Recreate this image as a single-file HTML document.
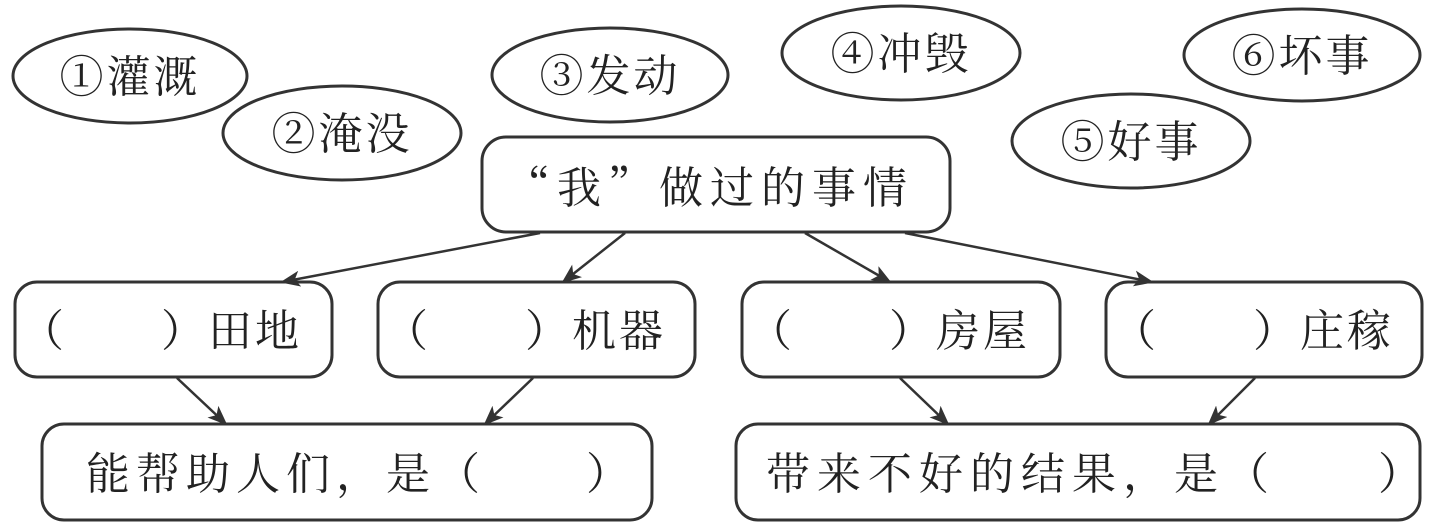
<!DOCTYPE html>
<html><head><meta charset="utf-8"><style>
html,body{margin:0;padding:0;background:#fff;}
svg{display:block;}
text{font-family:"Noto Serif CJK SC","Noto Sans CJK SC","WenQuanYi Zen Hei",serif;font-size:44px;fill:#222;}
</style></head><body>
<svg width="1436" height="527" viewBox="0 0 1436 527" xmlns="http://www.w3.org/2000/svg">
<defs>
<marker id="b" markerWidth="20" markerHeight="16" refX="18" refY="8" orient="auto" markerUnits="userSpaceOnUse"><path d="M0,0 L20,8 L0,16 L5,8 z" fill="#333"/></marker></defs>
<g fill="none" stroke="#333" stroke-width="3">
<ellipse cx="130" cy="76" rx="117" ry="47"/>
<ellipse cx="342" cy="133" rx="119" ry="47"/>
<ellipse cx="610" cy="75" rx="118" ry="47"/>
<ellipse cx="901" cy="53" rx="119" ry="47"/>
<ellipse cx="1131" cy="141" rx="119" ry="47"/>
<ellipse cx="1302" cy="55" rx="118" ry="46"/>
<rect x="482" y="137" width="468" height="95" rx="24"/>
<rect x="15" y="282" width="317" height="95" rx="22"/>
<rect x="378" y="282" width="317" height="95" rx="22"/>
<rect x="742" y="282" width="318" height="95" rx="22"/>
<rect x="1106" y="282" width="316" height="95" rx="22"/>
<rect x="42" y="424" width="610" height="96" rx="22"/>
<rect x="736" y="424" width="684" height="96" rx="22"/>
<g stroke-width="2.5" marker-end="url(#b)">
<line x1="540" y1="233" x2="282" y2="282"/>
<line x1="625" y1="233" x2="563" y2="282"/>
<line x1="805" y1="233" x2="890" y2="282"/>
<line x1="905" y1="233" x2="1152" y2="282"/>
<line x1="177" y1="378" x2="226" y2="424"/>
<line x1="533" y1="378" x2="485" y2="424"/>
<line x1="900" y1="378" x2="948" y2="424"/>
<line x1="1255" y1="378" x2="1209" y2="424"/>
</g></g>
<g text-anchor="middle" letter-spacing="3" font-size="46">
<text x="130" y="92" font-size="46">①灌溉</text>
<text x="342" y="149" font-size="46">②淹没</text>
<text x="610" y="91" font-size="46">③发动</text>
<text x="901" y="69" font-size="46">④冲毁</text>
<text x="1131" y="157" font-size="46">⑤好事</text>
<text x="1302" y="71" font-size="46">⑥坏事</text>
</g>
<g letter-spacing="3">
<text x="506" y="203" letter-spacing="7">“我”做过的事情</text>
<text x="20" y="346">（　　）田地</text>
<text x="384" y="346">（　　）机器</text>
<text x="748" y="346">（　　）房屋</text>
<text x="1112" y="346">（　　）庄稼</text>
<text x="86" y="489" letter-spacing="6">能帮助人们，是（　　）</text>
<text x="766" y="489" letter-spacing="7">带来不好的结果，是（　　）</text>
</g>
</svg>
</body></html>
